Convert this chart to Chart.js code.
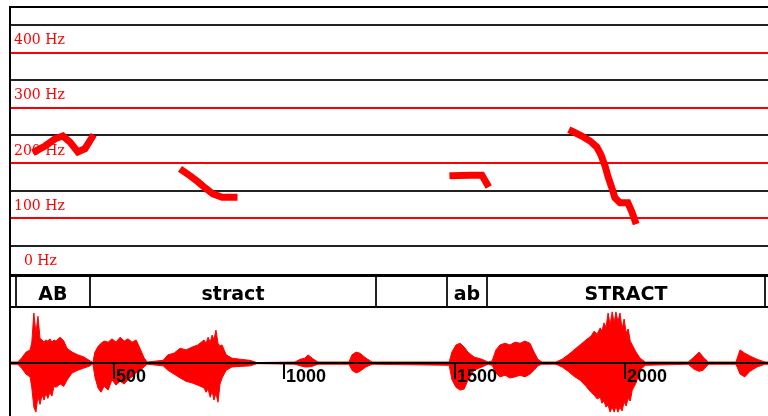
<!DOCTYPE html>
<html>
<head>
<meta charset="utf-8">
<title>AB stract / ab STRACT</title>
<script src="https://cdn.jsdelivr.net/npm/chart.js@4.4.0/dist/chart.umd.min.js"></script>
<style>
  html, body { margin: 0; padding: 0; background: #fff; overflow: hidden; }
  .wrap { position: relative; width: 768px; height: 416px; }
  .wrap canvas { position: absolute; left: 0; }
  #pitchChart { top: 0; }
  #tierChart { top: 274px; }
  #waveChart { top: 308px; }
</style>
</head>
<body>
<div class="wrap">
  <canvas id="pitchChart" width="768" height="277"></canvas>
  <canvas id="tierChart" width="768" height="36"></canvas>
  <canvas id="waveChart" width="768" height="108"></canvas>
</div>
<script>
// time axis (ms) shared by all three panels
const timeMin = 195;
const timeMax = 2418;

// pitch track, one pair of arrays per voiced stretch
const pitch1Ms = [271, 298, 327, 350, 371, 394, 415, 435];
const pitch1Hz = [222, 231, 244, 249, 238, 220, 226, 246];
const pitch2Ms = [702, 723, 746, 767, 790, 817, 852];
const pitch2Hz = [186, 177, 166, 155, 144, 138, 138];
const pitch3Ms = [1494, 1544, 1579, 1594];
const pitch3Hz = [177, 178, 178, 162];
const pitch4Ms = [1843, 1872, 1896, 1916, 1928, 1940, 1949, 1960, 1969, 1984, 2007, 2019, 2028];
const pitch4Hz = [258, 249, 240, 229, 215, 195, 175, 155, 137, 128, 128, 111, 95];

const hzMin = -5;
const hzMax = 485;
const hzLabels = [0, 100, 200, 300, 400];

// text tier
const tierBounds = [212, 430, 1268, 1476, 1594, 2409];
const tierLabels = ['AB', 'stract', '', 'ab', 'STRACT'];

// waveform envelope (relative amplitude), one line per burst
const waveMs = [195,
  218, 230, 242, 254, 259, 265, 271, 277, 283, 289, 295, 300, 306, 312, 318, 324, 330, 342, 353, 362, 377, 394, 412, 430, 438,
  444, 453, 462, 471, 483, 494, 506, 518, 530, 541, 553, 565, 576, 588, 597,
  644, 658, 676, 694, 711, 729, 746, 764, 770, 776, 782, 788, 793, 799, 805, 811, 817, 829, 846, 870, 899, 919,
  1031, 1046, 1060, 1069, 1081, 1098,
  1189, 1198, 1210, 1221, 1239, 1257,
  1483, 1491, 1503, 1515, 1527, 1538, 1556, 1579, 1597,
  1609, 1620, 1632, 1647, 1661, 1676, 1691, 1705, 1720, 1732, 1743, 1755,
  1796, 1814, 1832, 1849, 1867, 1884, 1899, 1908, 1917, 1926, 1931, 1937, 1943, 1949, 1955, 1961, 1967, 1972, 1978, 1984, 1990, 1996, 2002, 2008, 2014, 2020, 2031, 2043, 2058,
  2184, 2201, 2216, 2228, 2243,
  2324, 2336, 2350, 2365, 2386, 2409,
  2418];
const waveTop = [0.02,
  0.02, 0.10, 0.20, 0.24, 0.38, 0.91, 0.55, 0.85, 0.45, 0.42, 0.38, 0.42, 0.40, 0.44, 0.38, 0.42, 0.40, 0.47, 0.40, 0.27, 0.20, 0.15, 0.11, 0.04, 0.01,
  0.20, 0.30, 0.36, 0.40, 0.38, 0.44, 0.38, 0.47, 0.40, 0.44, 0.38, 0.42, 0.27, 0.10, 0.02,
  0.05, 0.15, 0.18, 0.27, 0.24, 0.29, 0.33, 0.42, 0.36, 0.47, 0.38, 0.51, 0.42, 0.60, 0.36, 0.31, 0.33, 0.15, 0.09, 0.07, 0.05, 0.01,
  0.02, 0.07, 0.09, 0.15, 0.09, 0.02,
  0.02, 0.15, 0.20, 0.18, 0.09, 0.02,
  0.02, 0.20, 0.33, 0.36, 0.29, 0.20, 0.11, 0.07, 0.02,
  0.04, 0.24, 0.33, 0.36, 0.33, 0.38, 0.36, 0.40, 0.36, 0.20, 0.07, 0.02,
  0.02, 0.07, 0.15, 0.24, 0.33, 0.42, 0.49, 0.58, 0.53, 0.64, 0.58, 0.73, 0.65, 0.91, 0.69, 0.93, 0.73, 0.93, 0.75, 0.91, 0.62, 0.80, 0.55, 0.62, 0.40, 0.33, 0.20, 0.09, 0.02,
  0.02, 0.11, 0.20, 0.11, 0.02,
  0.02, 0.24, 0.18, 0.13, 0.07, 0.02,
  0.02];
const waveBottom = [-0.02,
  -0.02, -0.10, -0.20, -0.25, -0.45, -0.80, -0.89, -0.60, -0.75, -0.58, -0.67, -0.55, -0.64, -0.53, -0.60, -0.42, -0.44, -0.38, -0.42, -0.31, -0.18, -0.13, -0.09, -0.05, -0.01,
  -0.25, -0.45, -0.53, -0.42, -0.49, -0.30, -0.40, -0.33, -0.38, -0.30, -0.25, -0.18, -0.13, -0.07, -0.02,
  -0.05, -0.13, -0.20, -0.27, -0.33, -0.36, -0.40, -0.45, -0.53, -0.47, -0.62, -0.51, -0.67, -0.55, -0.71, -0.38, -0.27, -0.13, -0.07, -0.06, -0.05, -0.01,
  -0.02, -0.05, -0.07, -0.07, -0.06, -0.02,
  -0.02, -0.13, -0.18, -0.15, -0.07, -0.02,
  -0.04, -0.30, -0.44, -0.49, -0.47, -0.31, -0.13, -0.07, -0.02,
  -0.04, -0.18, -0.25, -0.22, -0.27, -0.25, -0.22, -0.25, -0.20, -0.13, -0.05, -0.02,
  -0.02, -0.07, -0.15, -0.24, -0.31, -0.42, -0.53, -0.58, -0.65, -0.62, -0.73, -0.69, -0.80, -0.76, -0.89, -0.80, -0.89, -0.78, -0.89, -0.80, -0.87, -0.71, -0.78, -0.64, -0.69, -0.49, -0.36, -0.13, -0.04,
  -0.02, -0.11, -0.15, -0.13, -0.02,
  -0.02, -0.20, -0.25, -0.15, -0.07, -0.02,
  -0.02];
const waveTicks = [500, 1000, 1500, 2000];

const RED = '#ff0000';

function points(xs, ys) {
  return xs.map((x, i) => ({ x: x, y: ys[i] }));
}

function timeScale() {
  return { type: 'linear', min: timeMin, max: timeMax, display: false };
}

// black frame line down the left side of every panel
const leftBorder = {
  id: 'leftBorder',
  afterDraw(chart) {
    const ctx = chart.ctx;
    const top = chart.canvas.id === 'pitchChart' ? chart.chartArea.top : 0;
    ctx.save();
    ctx.fillStyle = '#000';
    ctx.fillRect(chart.chartArea.left - 1, top, 2, chart.height - top);
    ctx.restore();
  }
};

// "400 Hz" style labels sitting above each red line
const hzLabelPlugin = {
  id: 'hzLabels',
  beforeDatasetsDraw(chart) {
    const ctx = chart.ctx;
    const y = chart.scales.y;
    const left = chart.chartArea.left;
    ctx.save();
    ctx.font = '14px "DejaVu Serif"';
    ctx.fillStyle = RED;
    ctx.textBaseline = 'alphabetic';
    hzLabels.forEach(v => {
      const x = v === 0 ? left + 14 : left + 4;
      ctx.fillText(v + ' Hz', x, y.getPixelForValue(v) - 8.5);
    });
    ctx.restore();
  },
  afterDraw(chart) {
    const ctx = chart.ctx;
    ctx.save();
    ctx.fillStyle = '#000';
    ctx.fillRect(chart.chartArea.left - 1, chart.chartArea.top, chart.chartArea.right, 2);
    ctx.restore();
  }
};

function pitchSet(xs, ys) {
  return {
    data: points(xs, ys),
    borderColor: RED,
    borderWidth: 7,
    borderCapStyle: 'square',
    borderJoinStyle: 'miter',
    pointRadius: 0,
    fill: false,
    tension: 0
  };
}

new Chart(document.getElementById('pitchChart'), {
  type: 'line',
  data: {
    datasets: [
      pitchSet(pitch1Ms, pitch1Hz),
      pitchSet(pitch2Ms, pitch2Hz),
      pitchSet(pitch3Ms, pitch3Hz),
      pitchSet(pitch4Ms, pitch4Hz)
    ]
  },
  options: {
    responsive: false,
    animation: false,
    layout: { padding: { left: 10, top: 6, right: 0, bottom: 1 } },
    plugins: { legend: { display: false }, tooltip: { enabled: false } },
    scales: {
      x: timeScale(),
      y: {
        min: hzMin,
        max: hzMax,
        ticks: { display: false, stepSize: 50 },
        border: { display: false },
        grid: {
          drawTicks: false,
          lineWidth: 2,
          color: ctx => {
            const v = ctx.tick ? ctx.tick.value : 0;
            if (v <= 0 || v > 460) return 'rgba(0,0,0,0)';
            return v % 100 === 0 ? RED : '#222';
          }
        }
      }
    }
  },
  plugins: [hzLabelPlugin, leftBorder]
});

// segmentation tier drawn as boxes on the time scale
const tierPlugin = {
  id: 'tier',
  afterDraw(chart) {
    const ctx = chart.ctx;
    const x = chart.scales.x;
    const area = chart.chartArea;
    ctx.save();
    ctx.fillStyle = '#000';
    ctx.fillRect(area.left, 0, area.right - area.left, 3);
    ctx.fillRect(area.left, 32, area.right - area.left, 2);
    ctx.fillStyle = '#222';
    tierBounds.forEach(t => {
      ctx.fillRect(Math.round(x.getPixelForValue(t)) - 1, 3, 2, 29);
    });
    ctx.fillStyle = '#000';
    ctx.font = 'bold 19px "DejaVu Sans"';
    ctx.textAlign = 'center';
    ctx.textBaseline = 'alphabetic';
    tierLabels.forEach((lab, i) => {
      const mid = (x.getPixelForValue(tierBounds[i]) + x.getPixelForValue(tierBounds[i + 1])) / 2;
      ctx.fillText(lab, mid, 26);
    });
    ctx.restore();
  }
};

new Chart(document.getElementById('tierChart'), {
  type: 'line',
  data: { datasets: [] },
  options: {
    responsive: false,
    animation: false,
    layout: { padding: { left: 10, top: 0, right: 0, bottom: 0 } },
    plugins: { legend: { display: false }, tooltip: { enabled: false } },
    scales: { x: timeScale(), y: { display: false, min: 0, max: 1 } }
  },
  plugins: [tierPlugin, leftBorder]
});

// zero line, time ticks and their labels
const waveAxis = {
  id: 'waveAxis',
  afterDatasetsDraw(chart) {
    const ctx = chart.ctx;
    const x = chart.scales.x;
    const y0 = Math.round(chart.scales.y.getPixelForValue(0));
    const area = chart.chartArea;
    ctx.save();
    ctx.fillStyle = '#000';
    ctx.fillRect(area.left, y0 - 1, area.right - area.left, 2);
    ctx.font = 'bold 18px "Liberation Sans"';
    ctx.textBaseline = 'alphabetic';
    waveTicks.forEach(t => {
      const px = Math.round(x.getPixelForValue(t));
      ctx.fillRect(px - 1, y0, 2, 16);
      ctx.fillText(String(t), px + 2, y0 + 19);
    });
    ctx.restore();
  }
};

new Chart(document.getElementById('waveChart'), {
  type: 'line',
  data: {
    datasets: [
      {
        data: points(waveMs, waveTop),
        borderColor: RED,
        backgroundColor: RED,
        borderWidth: 1,
        pointRadius: 0,
        tension: 0,
        fill: 'origin'
      },
      {
        data: points(waveMs, waveBottom),
        borderColor: RED,
        backgroundColor: RED,
        borderWidth: 1,
        pointRadius: 0,
        tension: 0,
        fill: 'origin'
      }
    ]
  },
  options: {
    responsive: false,
    animation: false,
    layout: { padding: { left: 10, top: 0, right: 0, bottom: 0 } },
    plugins: { legend: { display: false }, tooltip: { enabled: false } },
    scales: { x: timeScale(), y: { display: false, min: -0.96, max: 1 } }
  },
  plugins: [waveAxis, leftBorder]
});
</script>
</body>
</html>
